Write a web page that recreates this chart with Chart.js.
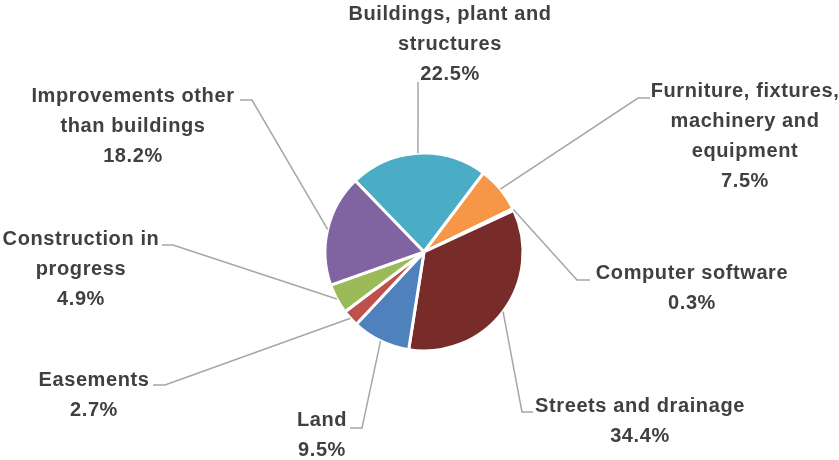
<!DOCTYPE html>
<html>
<head>
<meta charset="utf-8">
<script src="https://cdn.jsdelivr.net/npm/chart.js@4"></script>
<style>
  html, body { margin: 0; padding: 0; background: #fff; }
  #wrap { width: 839px; height: 460px; }
</style>
</head>
<body>
<div id="wrap"><canvas id="graficoPie"></canvas></div>
<script>
const categorias = [
  ["Buildings, plant and", "structures"],
  ["Furniture, fixtures,", "machinery and", "equipment"],
  ["Computer software"],
  ["Streets and drainage"],
  ["Land"],
  ["Easements"],
  ["Construction in", "progress"],
  ["Improvements other", "than buildings"],
];
const percentuais = [22.5, 7.5, 0.3, 34.4, 9.5, 2.7, 4.9, 18.2];
const cores = ["#4BACC6", "#F79646", "#2C4D75", "#772C2A", "#4F81BD", "#C0504D", "#9BBB59", "#8064A2"];

// where each label sits and where its leader line bends
const posRotulos = [
  { cx: 450, y: 14, dobra: [418, 82], fim: [418, 82] },
  { cx: 745, y: 91, dobra: [638, 98], fim: [650, 98] },
  { cx: 692, y: 273, dobra: [577, 280], fim: [590, 280] },
  { cx: 640, y: 406, dobra: [522, 412], fim: [533, 412] },
  { cx: 322, y: 420, dobra: [362, 428], fim: [350, 428] },
  { cx: 94, y: 380, dobra: [165, 385], fim: [153, 385] },
  { cx: 81, y: 239, dobra: [173, 245], fim: [162, 245] },
  { cx: 133, y: 96, dobra: [252, 100], fim: [240, 100] },
];

const rotulosPlugin = {
  id: "rotulos",
  afterDraw(chart) {
    const ctx = chart.ctx;
    const arcos = chart.getDatasetMeta(0).data;
    ctx.save();
    arcos.forEach((arco, i) => {
      const p = posRotulos[i];
      const meio = (arco.startAngle + arco.endAngle) / 2;
      const ax = arco.x + Math.cos(meio) * arco.outerRadius;
      const ay = arco.y + Math.sin(meio) * arco.outerRadius;
      ctx.strokeStyle = "#A6A6A6";
      ctx.lineWidth = 1.5;
      ctx.beginPath();
      ctx.moveTo(ax, ay);
      ctx.lineTo(p.dobra[0], p.dobra[1]);
      ctx.lineTo(p.fim[0], p.fim[1]);
      ctx.stroke();

      const linhas = categorias[i].concat([percentuais[i].toFixed(1) + "%"]);
      ctx.fillStyle = "#404040";
      ctx.font = "bold 20px 'Liberation Sans', Arial, sans-serif";
      ctx.letterSpacing = "0.6px";
      ctx.textAlign = "center";
      ctx.textBaseline = "middle";
      linhas.forEach((t, k) => {
        ctx.fillText(t, p.cx, p.y + k * 30);
      });
    });
    ctx.restore();
  },
};

const graficoPie = new Chart(document.getElementById("graficoPie"), {
  type: "pie",
  data: {
    labels: categorias,
    datasets: [
      {
        data: percentuais,
        backgroundColor: cores,
        borderColor: "#FFFFFF",
        borderWidth: 3,
      },
    ],
  },
  options: {
    responsive: true,
    maintainAspectRatio: false,
    animation: false,
    rotation: -44,
    radius: 99,
    layout: { padding: { top: 153, bottom: 109, left: 325, right: 316 } },
    plugins: { legend: { display: false }, tooltip: { enabled: false } },
  },
  plugins: [rotulosPlugin],
});
</script>
</body>
</html>
